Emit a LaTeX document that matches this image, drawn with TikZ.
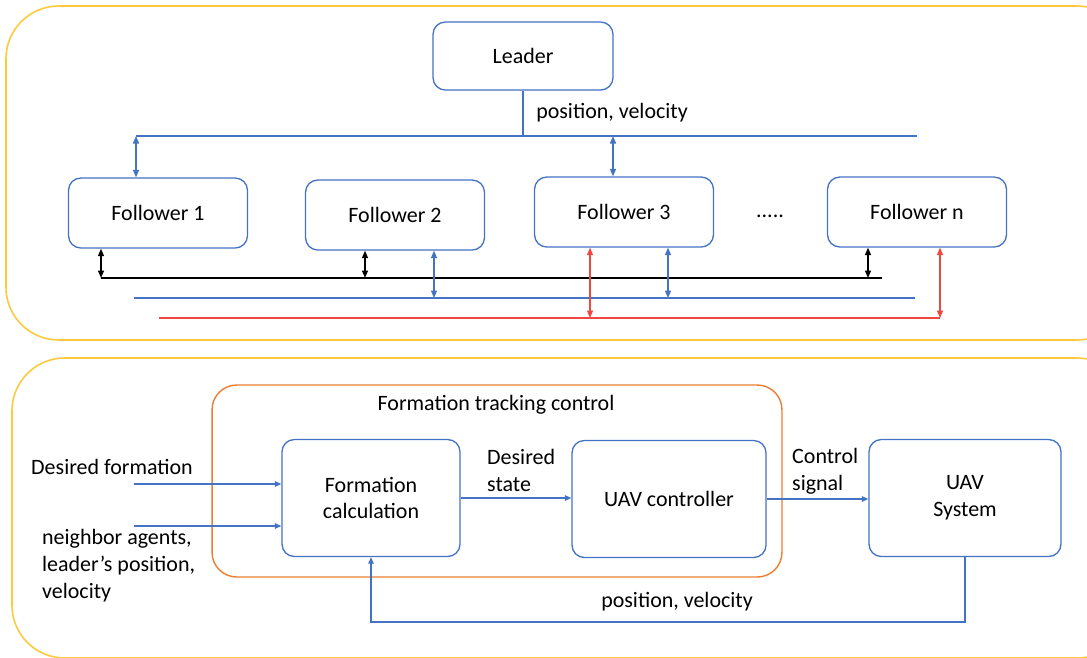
\documentclass[tikz,border=0pt]{standalone}
\usepackage{fontspec}
\setmainfont{Carlito}
\usetikzlibrary{arrows.meta}
\definecolor{uavblue}{HTML}{4472C4}
\definecolor{panelgold}{HTML}{FFC83D}
\definecolor{ctrlorange}{HTML}{ED7D31}
\definecolor{busred}{HTML}{F0473F}

\begin{document}
\begin{tikzpicture}[x=0.02cm, y=-0.02cm,
    font=\fontsize{12.5}{15.3}\selectfont,
    box/.style={draw=uavblue, line width=0.75pt, rounded corners=7pt, align=center, inner sep=0pt},
    agent/.style={box, minimum width=3.58cm, minimum height=1.4cm},
    block/.style={box, minimum height=2.34cm},
    panel/.style={draw=panelgold, line width=0.9pt, rounded corners=30pt},
    bus/.style={line width=0.8pt},
    arrow/.style={-{Triangle[length=1.3mm,width=1.1mm]}, line width=0.7pt, draw=uavblue},
    link/.style={{Triangle[length=1.5mm,width=1.2mm]}-{Triangle[length=1.5mm,width=1.2mm]}, line width=0.8pt}
  ]
    \clip (0,0) rectangle (1087,657);
    % both panels run past the right edge
    \draw[panel] (6,6) rectangle (1130,340);
    \draw[panel] (12,358) rectangle (1130,658);

    % leader and followers
    \node[box, minimum width=3.6cm, minimum height=1.36cm] (leader) at (523,56) {Leader};
    \node[agent] (f1) at (158,213) {Follower 1};
    \node[agent] (f2) at (395,215) {Follower 2};
    \node[agent] (f3) at (624,212) {Follower 3};
    \node (dots) at (770,216) {.....};
    \node[agent] (fn) at (917,212) {Follower n};
    \node (lstate) at (612,113) {position, velocity};

    \coordinate (top-l) at (136,136);
    \coordinate (top-r) at (917,136);
    \coordinate (top-3) at (613,136);
    \draw[bus, uavblue] (leader) -- (leader |- top-l);
    \draw[bus, uavblue] (top-l) -- (top-r);
    \draw[link, uavblue] (top-l) -- (top-l |- f1.north);
    \draw[link, uavblue] (top-3) -- (top-3 |- f3.north);

    % neighbour links below the followers
    \coordinate (k-l) at (101,278);
    \coordinate (k-2) at (365,278);
    \coordinate (k-n) at (868,278);
    \coordinate (k-r) at (882,278);
    \draw[bus] (k-l) -- (k-r);
    \draw[link] (k-l) -- (k-l |- f1.south);
    \draw[link] (k-2) -- (k-2 |- f2.south);
    \draw[link] (k-n) -- (k-n |- fn.south);

    \coordinate (b-l) at (134,298);
    \coordinate (b-2) at (434,298);
    \coordinate (b-3) at (668,298);
    \coordinate (b-r) at (915,298);
    \draw[bus, uavblue] (b-l) -- (b-r);
    \draw[link, uavblue] (b-2) -- (b-2 |- f2.south);
    \draw[link, uavblue] (b-3) -- (b-3 |- f3.south);

    \coordinate (r-l) at (159,318);
    \coordinate (r-3) at (590,318);
    \coordinate (r-n) at (940,318);
    \draw[bus, busred] (r-l) -- (r-n);
    \draw[link, busred] (r-3) -- (r-3 |- f3.south);
    \draw[link, busred] (r-n) -- (r-n |- fn.south);

    % control loop
    \node[draw=ctrlorange, line width=0.8pt, rounded corners=14pt,
          minimum width=11.4cm, minimum height=3.84cm] (ftc) at (497,481) {};
    \node (ftc-title) at (496,405) {Formation tracking control};
    \node[block, minimum width=3.56cm] (calc) at (371,498) {Formation\\calculation};
    \node[block, minimum width=3.88cm] (ctrl) at (669,499) {UAV controller};
    \node[block, minimum width=3.84cm] (sys) at (965,498) {UAV\\System};

    \node (desired) at (112,467) {Desired formation};
    \node[align=left, anchor=west] (nbr) at (36,566) {neighbor agents,\\ leader’s position,\\ velocity};
    \coordinate (in-1) at (134,484);
    \coordinate (in-2) at (134,526);
    \draw[arrow] (in-1) -- (in-1 -| calc.west);
    \draw[arrow] (in-2) -- (in-2 -| calc.west);

    \draw[arrow] (calc.east) -- (calc.east -| ctrl.west);
    \node[align=left, anchor=west] (dstate) at (481,470) {Desired\\state};
    \draw[arrow] (ctrl.east) -- (ctrl.east -| sys.west);
    \node[align=left, anchor=west] (csig) at (786,471) {Control\\signal};

    % feedback from the UAV
    \coordinate (fb) at (965,622);
    \draw[arrow] (sys.south) -- (fb) -- (fb -| calc.south) -- (calc.south);
    \node (fbl) at (677,602) {position, velocity};
  \end{tikzpicture}
\end{document}
